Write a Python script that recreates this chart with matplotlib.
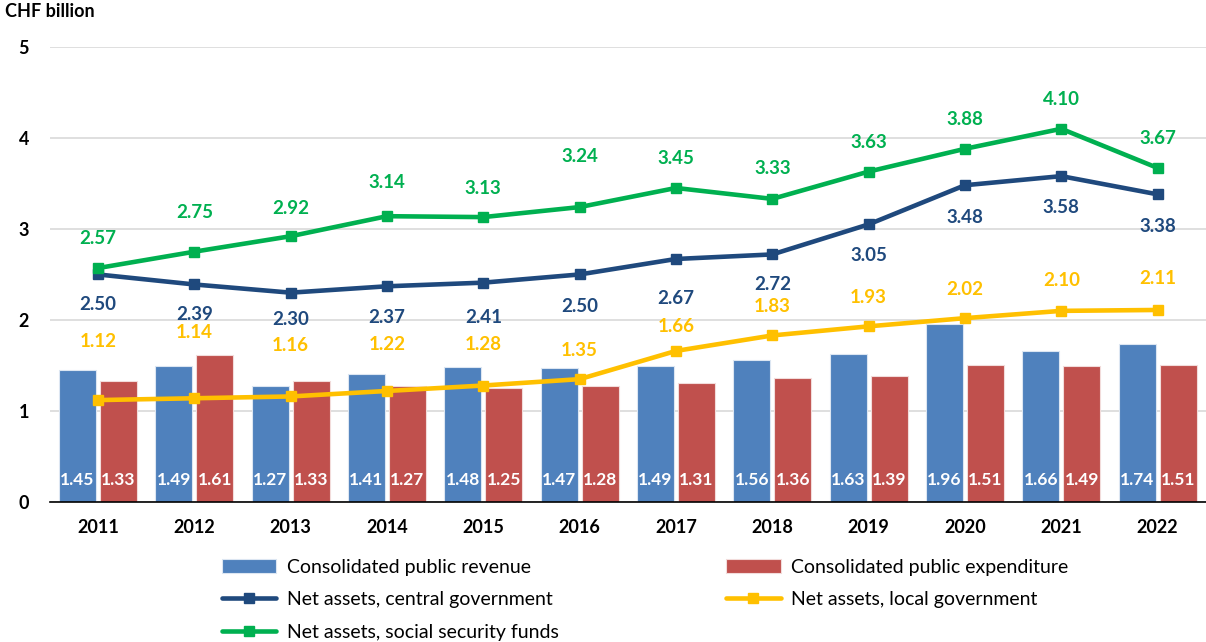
import matplotlib.pyplot as plt
import numpy as np

plt.rcParams['font.family'] = ['Lato', 'DejaVu Sans']

years = ['2011', '2012', '2013', '2014', '2015', '2016',
         '2017', '2018', '2019', '2020', '2021', '2022']
revenue = [1.45, 1.49, 1.27, 1.41, 1.48, 1.47, 1.49, 1.56, 1.63, 1.96, 1.66, 1.74]
expenditure = [1.33, 1.61, 1.33, 1.27, 1.25, 1.28, 1.31, 1.36, 1.39, 1.51, 1.49, 1.51]
central = [2.50, 2.39, 2.30, 2.37, 2.41, 2.50, 2.67, 2.72, 3.05, 3.48, 3.58, 3.38]
local = [1.12, 1.14, 1.16, 1.22, 1.28, 1.35, 1.66, 1.83, 1.93, 2.02, 2.10, 2.11]
social = [2.57, 2.75, 2.92, 3.14, 3.13, 3.24, 3.45, 3.33, 3.63, 3.88, 4.10, 3.67]

# vertical label offsets in pixels (positive = above the point)
central_off = [-30, -30, -27, -31, -35, -32, -40, -30, -31, -32, -31, -32]
local_off = [59, 66, 51, 46, 41, 29, 24, 29, 29, 29, 30, 31]
social_off = [30, 39, 28, 34, 29, 51, 29, 30, 29, 29, 29, 29]

c_rev = '#4F81BD'
c_exp = '#C0504D'
c_cen = '#1F497D'
c_loc = '#FFC000'
c_soc = '#00B050'

fig = plt.figure(figsize=(12.06, 6.42), dpi=100)
ax = fig.add_axes([0.0413, 0.218, 0.9585, 0.709])

x = np.arange(len(years))
w = 0.385
off = 0.213
b1 = ax.bar(x - off, revenue, w, color=c_rev, edgecolor='#DCE6F2', linewidth=0.8,
            label='Consolidated public revenue', zorder=2)
b2 = ax.bar(x + off, expenditure, w, color=c_exp, edgecolor='#F2DCDB', linewidth=0.8,
            label='Consolidated public expenditure', zorder=2)

for bars, vals in ((b1, revenue), (b2, expenditure)):
    for b, v in zip(bars, vals):
        ax.text(b.get_x() + b.get_width() / 2, 0.24, f'{v:.2f}', ha='center', va='center',
                color='white', fontsize=12.5, fontweight='bold', zorder=5)

lines = [
    (central, c_cen, 'Net assets, central government', central_off),
    (local, c_loc, 'Net assets, local government', local_off),
    (social, c_soc, 'Net assets, social security funds', social_off),
]
handles = {}
for vals, col, name, offs in lines:
    h, = ax.plot(x, vals, color=col, linewidth=3.3, marker='s', markersize=7.5,
                 solid_capstyle='round', label=name, zorder=4)
    handles[name] = h
    for xi, v, o in zip(x, vals, offs):
        ax.annotate(f'{v:.2f}', (xi, v), xytext=(0, o), textcoords='offset pixels',
                    ha='center', va='center', color=col, fontsize=13.5,
                    fontweight='bold', zorder=5)

ax.set_xlim(-0.5, 11.5)
ax.set_ylim(0, 5)
ax.set_yticks(range(6))
ax.set_xticks(x)
ax.set_xticklabels(years)
ax.yaxis.grid(True, color='#D9D9D9', linewidth=1.2, zorder=0)
ax.set_axisbelow(True)
for s in ('top', 'right', 'left'):
    ax.spines[s].set_visible(False)
ax.spines['bottom'].set_color('#000000')
ax.spines['bottom'].set_linewidth(1.2)
ax.tick_params(axis='both', length=0, labelsize=13)
ax.tick_params(axis='x', pad=12)
ax.tick_params(axis='y', pad=15)
for lab in ax.get_xticklabels() + ax.get_yticklabels():
    lab.set_fontweight('bold')

fig.text(0.004, 0.982, 'CHF billion', fontsize=13, fontweight='bold', va='center')

# column-major order so rows read revenue/expenditure, central/local, social
order = [b1, handles['Net assets, central government'],
         handles['Net assets, social security funds'],
         b2, handles['Net assets, local government']]
fig.legend(handles=order, labels=[h.get_label() for h in order], ncol=2,
           loc='upper left', bbox_to_anchor=(0.184, 0.13), frameon=False,
           fontsize=14, handlelength=2.8, handletextpad=0.55, columnspacing=8.6,
           labelspacing=0.8, borderpad=0, borderaxespad=0)

fig.savefig('out.png', dpi=100)
